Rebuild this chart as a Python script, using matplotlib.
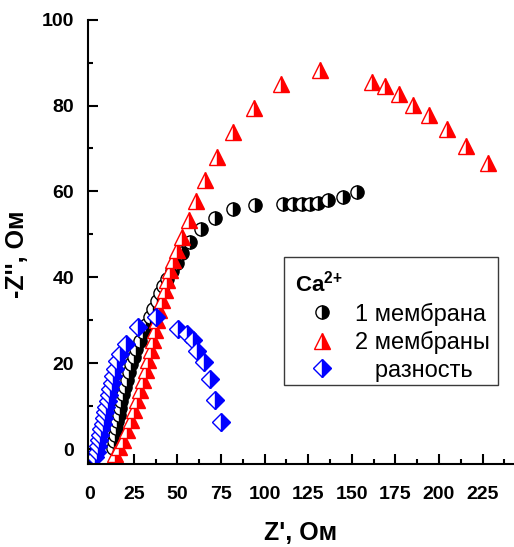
import matplotlib
matplotlib.use('Agg')
import matplotlib.pyplot as plt
from matplotlib.ticker import MultipleLocator
from matplotlib.patches import Rectangle

plt.rcParams['font.family'] = ['Liberation Sans', 'DejaVu Sans']
plt.rcParams['mathtext.fontset'] = 'custom'
plt.rcParams['mathtext.rm'] = 'Liberation Sans'
plt.rcParams['mathtext.bf'] = 'Liberation Sans:bold'

# 1 мембрана
mem1_x = [13.0, 13.6, 14.2, 14.8, 15.5, 16.3, 17.1, 18.0, 19.0, 20.0,
          21.2, 22.4, 23.7, 25.0, 26.6, 28.4, 30.3, 32.2, 34.2, 36.2,
          38.2, 40.1, 42.0, 44.3, 46.8, 49.7, 52.8, 57.3, 63.6, 71.8,
          81.8, 94.6, 110.4, 116.5, 121.3, 126.1, 130.9, 136.5, 144.9, 152.9]
mem1_y = [0.3, 1.9, 3.4, 5.0, 6.6, 8.1, 9.7, 11.3, 12.9, 14.5,
          16.2, 18.0, 19.8, 21.6, 23.4, 25.3, 27.2, 29.0, 30.9, 32.7,
          34.5, 36.3, 37.9, 39.6, 41.4, 43.3, 45.6, 48.3, 51.2, 53.8,
          55.9, 56.9, 57.0, 57.0, 57.1, 57.2, 57.4, 58.0, 58.6, 59.9]

# 2 мембраны
mem2_x = [14.5, 16.5, 18.7, 21.0, 23.3, 25.2, 27.1, 28.7, 30.5, 32.1,
          33.4, 34.8, 36.3, 37.2, 38.6, 39.7, 41.1, 43.0, 44.3, 45.8,
          47.8, 49.7, 52.8, 56.7, 60.7, 66.1, 73.0, 81.9, 93.8, 109.5,
          131.8, 161.8, 169.1, 177.3, 184.9, 194.4, 204.8, 215.5, 228.1]
mem2_y = [-1.0, 0.5, 2.2, 4.5, 6.9, 9.2, 11.5, 13.8, 16.2, 18.5,
          20.8, 23.1, 25.5, 27.8, 30.1, 32.4, 34.8, 37.1, 39.4, 41.7,
          44.1, 46.4, 49.4, 53.4, 57.9, 62.6, 68.0, 73.8, 79.4, 85.1,
          88.2, 85.4, 84.5, 82.7, 80.2, 77.9, 74.5, 70.5, 66.6]

# разность
diff_x = [3.0, 3.7, 4.4, 5.1, 5.8, 6.5, 7.2, 7.9, 8.6, 9.3,
          10.0, 10.8, 11.6, 12.4, 13.3, 14.3, 15.5, 17.2, 20.3, 27.5,
          37.8, 50.6, 55.8, 58.8, 61.5, 65.3, 68.9, 71.8, 75.1]
diff_y = [-1.8, -0.5, 0.8, 2.1, 3.4, 4.7, 6.0, 7.3, 8.6, 9.9,
          11.2, 12.6, 14.0, 15.5, 17.0, 18.7, 20.5, 22.3, 24.6, 28.4,
          30.7, 28.0, 26.9, 25.5, 23.0, 20.3, 16.4, 11.4, 6.3]

fig = plt.figure(figsize=(5.14, 5.47), dpi=100)
ax = fig.add_axes([0.1712, 0.1517, 0.8288, 0.8126])


def half(color):
    # левая половина белая, правая закрашена
    return dict(linestyle='none', fillstyle='right', markerfacecolor=color,
                markerfacecoloralt='white', markeredgecolor=color,
                markeredgewidth=1.0)


ax.plot(mem1_x, mem1_y, marker='o', markersize=9.5, label='1 мембрана', **half('black'))
ax.plot(mem2_x, mem2_y, marker='^', markersize=11, label='2 мембраны', **half('red'))
ax.plot(diff_x, diff_y, marker='D', markersize=9.5, label='   разность', **half('blue'))

ax.set_xlim(-1.2, 243)
ax.set_ylim(-3.4, 100)
ax.set_xticks(range(0, 226, 25))
ax.set_yticks(range(0, 101, 20))
ax.xaxis.set_minor_locator(MultipleLocator(12.5))
ax.yaxis.set_minor_locator(MultipleLocator(10))

for side in ['top', 'right']:
    ax.spines[side].set_visible(False)
for side in ['left', 'bottom']:
    ax.spines[side].set_linewidth(1.5)

ax.tick_params(which='both', direction='in', width=1.5, labelsize=14)
ax.tick_params(which='major', length=7)
ax.tick_params(which='minor', length=3.5)
ax.tick_params(axis='x', pad=16)
ax.tick_params(axis='y', pad=10)
for lab in ax.get_xticklabels() + ax.get_yticklabels():
    lab.set_fontweight('bold')

ax.set_xlabel("Z', Ом", fontsize=18, fontweight='bold', va='center')
ax.set_ylabel("-Z'', Ом", fontsize=18, fontweight='bold', va='center')
ax.xaxis.set_label_coords(0.5, -0.156)
ax.yaxis.set_label_coords(-0.167, 0.472)

ax.legend(loc='upper left', bbox_to_anchor=(0.574, 0.5045), bbox_transform=fig.transFigure,
          frameon=False, title='Ca$^{\\mathbf{2{+}}}$',
          title_fontproperties={'weight': 'bold', 'size': 16}, alignment='left',
          fontsize=17, handlelength=2.29, handletextpad=0.25, labelspacing=0.23,
          borderpad=0, borderaxespad=0)

fig.add_artist(Rectangle((284 / 514, 1 - 385 / 547), (498 - 284) / 514, (385 - 257) / 547,
                         transform=fig.transFigure, fill=False, edgecolor='#3a3a3a',
                         linewidth=1.0))

fig.savefig('out.png', dpi=100)
